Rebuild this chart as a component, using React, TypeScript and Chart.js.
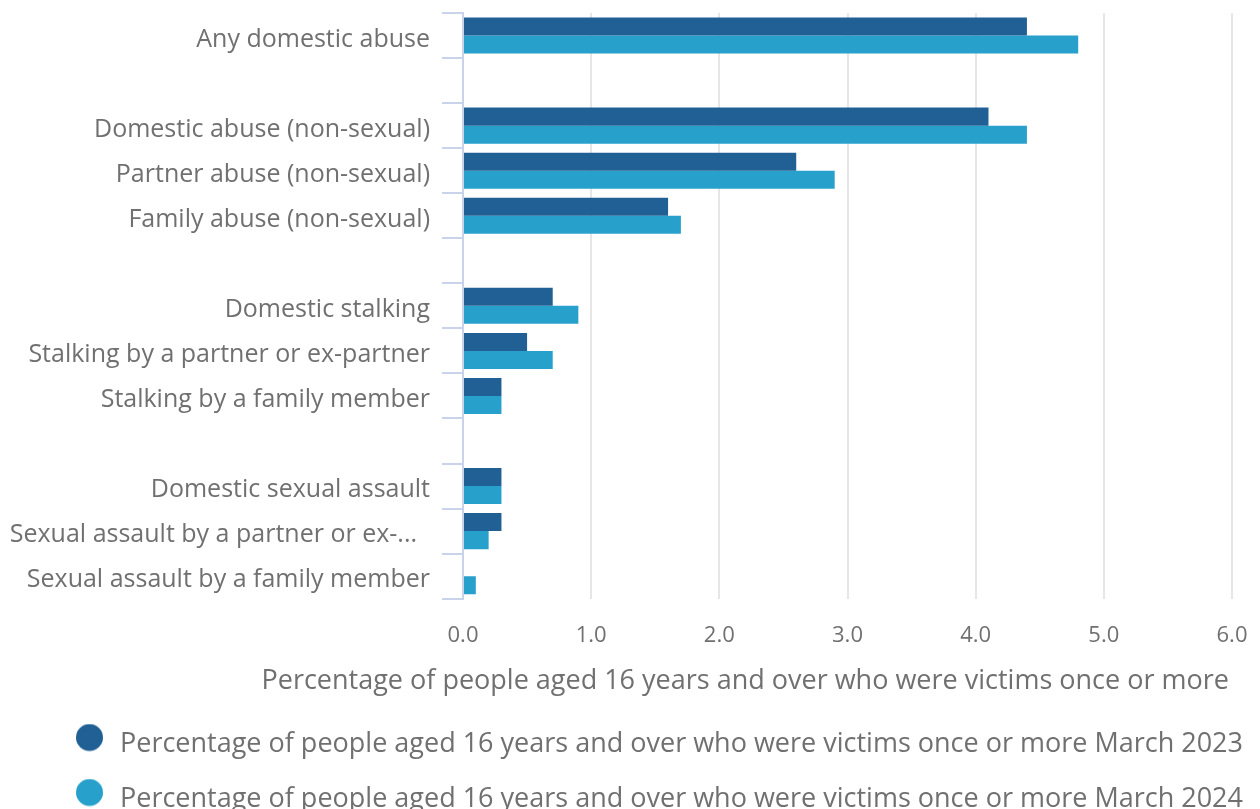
import React, { useEffect, useRef } from 'react';
import { Chart, registerables } from 'chart.js';

Chart.register(...registerables);

const categories = [
  'Any domestic abuse',
  '',
  'Domestic abuse (non-sexual)',
  'Partner abuse (non-sexual)',
  'Family abuse (non-sexual)',
  '',
  'Domestic stalking',
  'Stalking by a partner or ex-partner',
  'Stalking by a family member',
  '',
  'Domestic sexual assault',
  'Sexual assault by a partner or ex-...  ',
  'Sexual assault by a family member',
];

const values2023 = [4.4, null, 4.1, 2.6, 1.6, null, 0.7, 0.5, 0.3, null, 0.3, 0.3, 0.0];
const values2024 = [4.8, null, 4.4, 2.9, 1.7, null, 0.9, 0.7, 0.3, null, 0.3, 0.2, 0.1];

const seriesLabels = [
  'Percentage of people aged 16 years and over who were victims once or more March 2023',
  'Percentage of people aged 16 years and over who were victims once or more March 2024',
];
const seriesColors = ['#206095', '#27a0cc'];

const xTickValues = [0, 1, 2, 3, 4, 5, 6];
const xAxisTitle = 'Percentage of people aged 16 years and over who were victims once or more';

const FONT = "'Open Sans', sans-serif";
const TEXT = '#707070';
const AXIS = '#c9d3ea';
const GRID = '#e6e6e6';

function makeDot(color: string): HTMLCanvasElement {
  const c = document.createElement('canvas');
  c.width = 34;
  c.height = 42;
  const g = c.getContext('2d')!;
  g.fillStyle = color;
  g.beginPath();
  g.arc(13.5, 14, 13.5, 0, Math.PI * 2);
  g.fill();
  return c;
}

export default function App() {
  const ref = useRef<HTMLCanvasElement>(null);

  useEffect(() => {
    const dots = seriesColors.map((c) => makeDot(c));
    const chart = new Chart(ref.current!, {
      type: 'bar',
      data: {
        labels: categories,
        datasets: [
          {
            label: seriesLabels[0],
            data: values2023 as any,
            backgroundColor: seriesColors[0],
            categoryPercentage: 0.8,
            barPercentage: 1,
          },
          {
            label: seriesLabels[1],
            data: values2024 as any,
            backgroundColor: seriesColors[1],
            categoryPercentage: 0.8,
            barPercentage: 1,
          },
        ],
      },
      options: {
        indexAxis: 'y',
        responsive: true,
        maintainAspectRatio: false,
        animation: false,
        layout: { padding: { top: 0, right: -19, bottom: -14, left: 0 } },
        plugins: {
          title: {
            display: true,
            position: 'bottom',
            align: 'end',
            fullSize: true,
            weight: 500,
            text: xAxisTitle + '      ',
            color: TEXT,
            font: { family: FONT, size: 27, weight: 'normal' },
            padding: { top: -7.5, bottom: 5 },
          },
          legend: {
            position: 'bottom',
            align: 'end',
            labels: {
              usePointStyle: true,
              font: { family: FONT, size: 27 },
              color: TEXT,
              padding: 28,
              generateLabels: (ch: any) => {
                const items = (Chart.defaults as any).plugins.legend.labels.generateLabels(ch);
                items.forEach((it: any, i: number) => {
                  it.pointStyle = dots[i];
                });
                return items;
              },
            },
          },
          tooltip: { enabled: false },
        },
        scales: {
          x: {
            type: 'linear',
            min: 0,
            max: 6,
            afterBuildTicks: (s: any) => {
              s.ticks = xTickValues.map((v) => ({ value: v }));
            },
            afterFit: (s: any) => {
              s.paddingRight = 20;
            },
            ticks: {
              callback: (v: any) => Number(v).toFixed(1),
              font: { family: FONT, size: 22 },
              color: TEXT,
              padding: 24,
            },
            grid: {
              color: (ctx: any) => (ctx.index === 0 ? 'rgba(0,0,0,0)' : GRID),
              lineWidth: 2,
              drawTicks: false,
            },
            border: { display: false },
          },
          y: {
            type: 'category',
            afterFit: (s: any) => {
              s.width = 455;
              s.paddingTop = 5;
              s.paddingBottom = 0;
            },
            ticks: {
              font: { family: FONT, size: 25 },
              color: TEXT,
              padding: 12,
              labelOffset: 4,
              autoSkip: false,
            },
            grid: {
              color: AXIS,
              lineWidth: 2,
              drawOnChartArea: false,
              drawTicks: true,
              tickLength: 21,
              offset: true,
            },
            border: { display: true, color: AXIS, width: 2 },
          },
        },
      } as any,
    });
    return () => chart.destroy();
  }, []);

  return (
    <div style={{ position: 'relative', width: 1244, height: 801 }}>
      <canvas ref={ref} />
    </div>
  );
}
